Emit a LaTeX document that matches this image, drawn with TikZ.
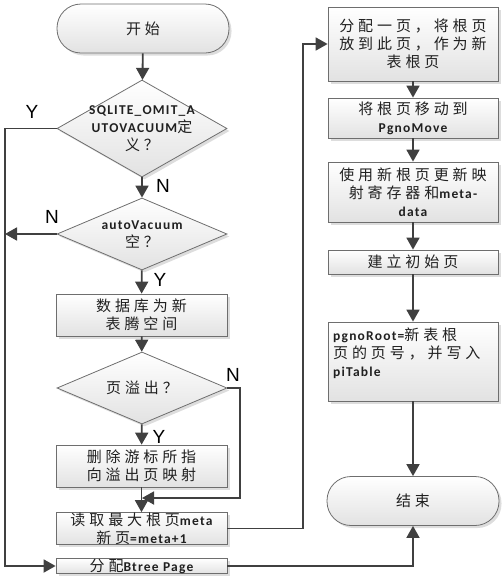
\documentclass[tikz,border=0pt]{standalone}
\usepackage{fontspec}
\setmainfont{Carlito}[LetterSpace=9]
\newfontfamily\cjk{Noto Sans CJK SC}[LetterSpace=26]
\newfontfamily\labfont{Liberation Sans}
\newcommand\zh[1]{{\cjk\mdseries\fontsize{15}{18}\selectfont #1}}
\usetikzlibrary{arrows.meta,shapes.geometric,shadows}
\definecolor{lc}{HTML}{404040}
\definecolor{bc}{HTML}{6E6E6E}
\definecolor{gfill}{HTML}{E2E2E2}
\definecolor{tc}{HTML}{202020}
\tikzset{
  line/.style={draw=lc, line width=1.8pt},
  arr/.style={line, -{Triangle[length=12pt,width=13pt]}},
  shape base/.style={draw=bc, line width=0.8pt, top color=white, bottom color=gfill,
     drop shadow={shadow xshift=2.5pt, shadow yshift=-2.5pt, fill=black!22, opacity=0.6},
     inner sep=0pt, text=tc, font=\bfseries\fontsize{13.5}{18}\selectfont, align=center},
  procbox/.style={shape base, rectangle, minimum width=171pt},
  rbox/.style={shape base, rectangle, minimum width=170pt},
  term/.style={shape base, rectangle, rounded corners=24pt, minimum width=172pt, minimum height=49pt},
  dia/.style={shape base, diamond, minimum width=170pt},
  txt/.style={inner sep=0pt, text=tc, font=\bfseries\fontsize{13.5}{18}\selectfont, align=center},
  yn/.style={inner sep=0pt, text=black, font=\labfont\fontsize{19}{19}\selectfont},
}
\begin{document}
\begin{tikzpicture}[x=1pt,y=-1pt]
\useasboundingbox (0,0) rectangle (503,587);
% left column
\node[term] (start) at (143,28.5) {\zh{开始}};
\node[dia, minimum height=97pt] (d1) at (142,128.5) {};
\node[txt] (d1t) at (d1) {SQLITE\_OMIT\_A\\UTOVACUUM\zh{定}\\\zh{义？}};
\node[dia, minimum height=72pt] (d2) at (142,234) {};
\node[txt] (d2t) at (d2) {autoVacuum\\\zh{空？}};
\node[procbox, minimum height=42pt] (b3) at (141.5,315) {\zh{数据库为新}\\\zh{表腾空间}};
\node[dia, minimum height=72pt] (d3) at (142,388) {};
\node[txt] (d3t) at (d3) {\zh{页溢出？}};
\node[procbox, minimum height=42pt] (b4) at (141.5,466) {\zh{删除游标所指}\\\zh{向溢出页映射}};
\node[procbox, minimum height=29pt] (b5) at (141.5,528.5) {\zh{读取最大根页}meta\\\zh{新页}=meta+1};
\node[procbox, minimum height=14pt] (b6) at (141.5,566) {\zh{分配}Btree Page};
% right column
\node[rbox, minimum height=74pt] (b7) at (413,44) {\zh{分配一页，将根页}\\\zh{放到此页，作为新}\\\zh{表根页}};
\node[rbox, minimum height=40pt] (b8) at (413,118) {\zh{将根页移动到}\\PgnoMove};
\node[rbox, minimum height=60pt] (b9) at (413,192) {\zh{使用新根页更新映}\\\zh{射寄存器和}meta-\\data};
\node[rbox, minimum height=24pt] (b10) at (413,262) {\zh{建立初始页}};
\node[rbox, minimum height=79pt] (b11) at (413,361.5) {};
\node[txt, anchor=north west, align=left] (b11t) at (333,328) {pgnoRoot=\zh{新表根}\\\zh{页的页号，并写入}\\piTable};
\node[term] (end) at (413,501) {\zh{结束}};
% helper coordinates
\coordinate (ly) at (5,566);
\coordinate (n2) at (5,234);
\coordinate (d3r) at (240,498);
\coordinate (j) at (142,498);
\coordinate (r1) at (303,528.5);
% connectors
\draw[arr] (start) -- (d1);
\draw[arr] (d1.west) -| (ly) -- (b6.west);
\draw[arr] (d1) -- (d2);
\draw[arr] (d2.west) -- (n2);
\draw[arr] (d2) -- (b3);
\draw[arr] (b3) -- (d3);
\draw[arr] (d3.east) -| (d3r) -- (j);
\draw[arr] (d3) -- (b4);
\draw[arr] (b4) -- (b5);
\draw[arr] (b5.east) -- (r1) |- (b7.west);
\draw[arr] (b6.east) -| (end.south);
\draw[arr] (b7) -- (b8);
\draw[arr] (b8) -- (b9);
\draw[arr] (b9) -- (b10);
\draw[arr] (b10) -- (b11);
\draw[arr] (b11) -- (end);
% labels
\node[yn] (lY1) at (32,112) {Y};
\node[yn] (lN1) at (163,186) {N};
\node[yn] (lN2) at (52,217) {N};
\node[yn] (lY2) at (160,280) {Y};
\node[yn] (lN3) at (233,375) {N};
\node[yn] (lY3) at (159,437) {Y};
\end{tikzpicture}
\end{document}
